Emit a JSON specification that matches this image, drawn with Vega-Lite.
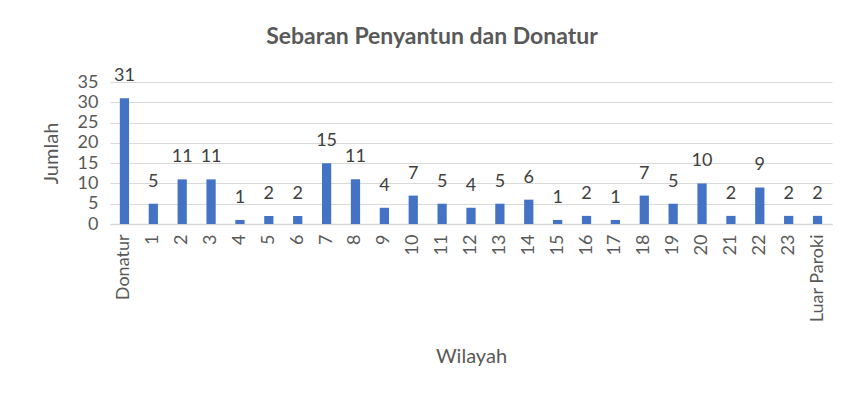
{
  "$schema": "https://vega.github.io/schema/vega-lite/v6.json",
  "width": 722,
  "height": 142,
  "autosize": "none",
  "padding": {"left": 110, "top": 82, "right": 32, "bottom": 180},
  "background": "white",
  "config": {
    "font": "Lato",
    "view": {"stroke": null},
    "axis": {"labelColor": "#595959", "titleColor": "#595959", "labelFontSize": 18, "titleFontSize": 20, "titleFontWeight": "normal", "ticks": false}
  },
  "title": {
    "text": "Sebaran Penyantun dan Donatur",
    "fontSize": 23,
    "fontWeight": "bold",
    "color": "#595959",
    "dx": -39,
    "offset": 18
  },
  "data": {
    "values": [
      {"wilayah": "Donatur", "jumlah": 31},
      {"wilayah": "1", "jumlah": 5},
      {"wilayah": "2", "jumlah": 11},
      {"wilayah": "3", "jumlah": 11},
      {"wilayah": "4", "jumlah": 1},
      {"wilayah": "5", "jumlah": 2},
      {"wilayah": "6", "jumlah": 2},
      {"wilayah": "7", "jumlah": 15},
      {"wilayah": "8", "jumlah": 11},
      {"wilayah": "9", "jumlah": 4},
      {"wilayah": "10", "jumlah": 7},
      {"wilayah": "11", "jumlah": 5},
      {"wilayah": "12", "jumlah": 4},
      {"wilayah": "13", "jumlah": 5},
      {"wilayah": "14", "jumlah": 6},
      {"wilayah": "15", "jumlah": 1},
      {"wilayah": "16", "jumlah": 2},
      {"wilayah": "17", "jumlah": 1},
      {"wilayah": "18", "jumlah": 7},
      {"wilayah": "19", "jumlah": 5},
      {"wilayah": "20", "jumlah": 10},
      {"wilayah": "21", "jumlah": 2},
      {"wilayah": "22", "jumlah": 9},
      {"wilayah": "23", "jumlah": 2},
      {"wilayah": "Luar Paroki", "jumlah": 2}
    ]
  },
  "encoding": {
    "x": {
      "field": "wilayah",
      "type": "nominal",
      "sort": null,
      "title": "Wilayah",
      "scale": {"paddingInner": 0.68, "paddingOuter": 0.34},
      "axis": {"labelAngle": -90, "labelPadding": 10, "titlePadding": 24, "domainColor": "#d9d9d9", "domainWidth": 1.5}
    },
    "y": {
      "field": "jumlah",
      "type": "quantitative",
      "title": "Jumlah",
      "scale": {"domain": [0, 35]},
      "axis": {"values": [0, 5, 10, 15, 20, 25, 30, 35], "domain": false, "gridColor": "#d9d9d9", "labelPadding": 12, "titlePadding": 16}
    }
  },
  "layer": [
    {"mark": {"type": "bar", "color": "#4472C4"}},
    {
      "mark": {"type": "text", "baseline": "middle", "dy": -22, "fontSize": 18, "color": "#404040"},
      "encoding": {"text": {"field": "jumlah", "type": "quantitative"}}
    }
  ]
}
